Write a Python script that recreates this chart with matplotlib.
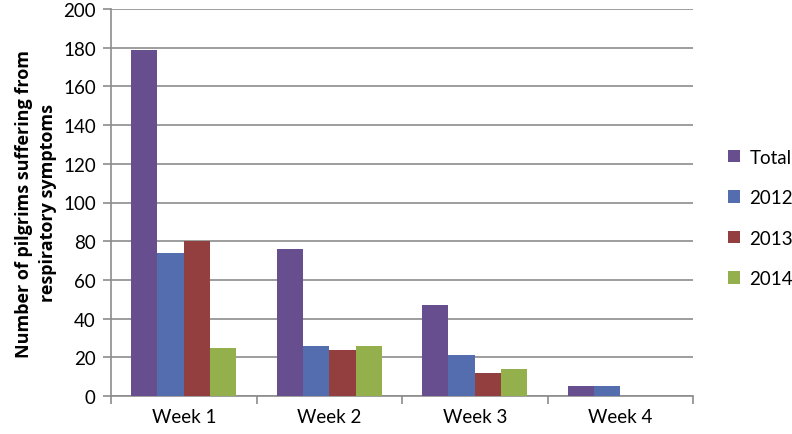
import matplotlib
matplotlib.use("Agg")
import matplotlib.pyplot as plt
import numpy as np

categories = ["Week 1", "Week 2", "Week 3", "Week 4"]
series_names = ["Total", "2012", "2013", "2014"]
total = [179, 76, 47, 5]
y2012 = [74, 26, 21, 5]
y2013 = [80, 24, 12, 0]
y2014 = [25, 26, 14, 0]
colors = ["#674E8F", "#546DAF", "#943F3F", "#94B04D"]

plt.rcParams['font.family'] = ['Lato', 'DejaVu Sans']

fig = plt.figure(figsize=(7.92, 4.35), dpi=100)
ax = fig.add_axes([111/792, 1-397/435, (693-111)/792, (397-10)/435])

x = np.arange(len(categories))
w = 0.181
data = [total, y2012, y2013, y2014]
for i, (vals, name, c) in enumerate(zip(data, series_names, colors)):
    ax.bar(x + (i - 1.5) * w, vals, width=w, color=c, label=name, zorder=3)

ax.set_xlim(-0.5, len(categories) - 0.5)
ax.set_ylim(0, 200)
ax.set_yticks(np.arange(0, 201, 20))
ax.grid(axis='y', color='#8C8C8C', linewidth=1.2, zorder=0)
ax.set_axisbelow(True)

for s in ['top', 'right']:
    ax.spines[s].set_visible(False)
for s in ['left', 'bottom']:
    ax.spines[s].set_color('#8C8C8C')
    ax.spines[s].set_linewidth(1.2)

ax.set_xticks(x)
ax.set_xticklabels(categories)
ax.tick_params(axis='x', length=0, labelsize=13.5, pad=9)
ax.set_xticks(np.arange(-0.5, len(categories)), minor=True)
ax.tick_params(axis='x', which='minor', length=6, color='#8C8C8C', width=1.2)
ax.tick_params(axis='y', length=6, color='#8C8C8C', width=1.2, labelsize=13.5, pad=5)

ax.set_ylabel("Number of pilgrims suffering from\nrespiratory symptoms",
              fontsize=13, fontweight='bold', labelpad=4, linespacing=1.45,
              family=['Open Sans', 'DejaVu Sans'])

leg = ax.legend(loc='center left', bbox_to_anchor=(1.031, 0.46), frameon=False,
                fontsize=13.5, handlelength=0.65, handleheight=0.65,
                labelspacing=1.25, handletextpad=0.5)

fig.savefig("out.png", dpi=100)
